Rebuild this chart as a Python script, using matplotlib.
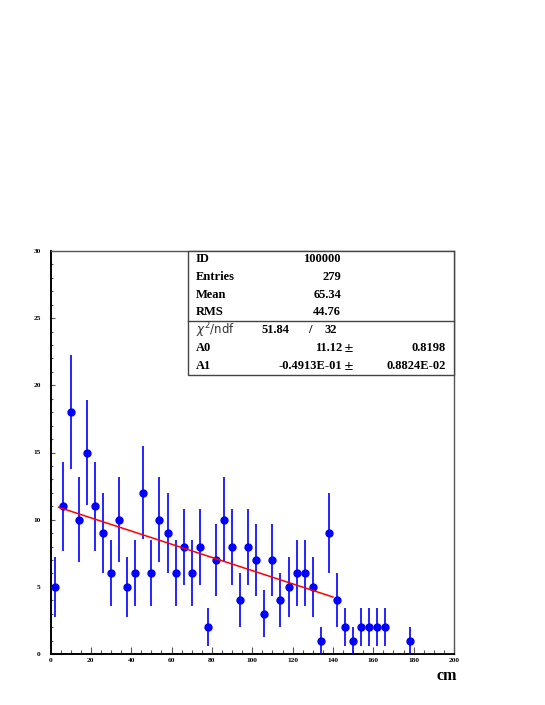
import numpy as np
import matplotlib
matplotlib.use('Agg')
import matplotlib.pyplot as plt
from matplotlib.patches import Rectangle
from matplotlib.ticker import MultipleLocator

# histogram contents, 50 bins of 4 cm from 0 to 200
bin_edges = np.arange(0, 204, 4)
counts = [5, 11, 18, 10, 15, 11, 9, 6, 10, 5,
          6, 12, 6, 10, 9, 6, 8, 6, 8, 2,
          7, 10, 8, 4, 8, 7, 3, 7, 4, 5,
          6, 6, 5, 1, 9, 4, 2, 1, 2, 2,
          2, 2, 0, 0, 1, 0, 0, 0, 0, 0]

# linear fit A0 + A1*x, fitted range
fit_a0 = 11.12
fit_a1 = -0.4913e-01
fit_range = [4, 140]

stat_labels = ['ID', 'Entries', 'Mean', 'RMS']
stat_values = ['100000', '279', '65.34', '44.76']
par_labels = ['A0', 'A1']
par_values = ['11.12', '-0.4913E-01']
par_errors = ['0.8198', '0.8824E-02']

W, H = 545, 705
fig = plt.figure(figsize=(W / 100, H / 100), dpi=100)

def px(x, y):
    return x / W, 1 - y / H

ax = fig.add_axes([50.5 / W, 1 - 654 / H, 403.5 / W, 403 / H])

centers = (bin_edges[:-1] + bin_edges[1:]) / 2
counts = np.array(counts, dtype=float)
filled = counts > 0
errs = np.sqrt(counts)

ax.errorbar(centers[filled], counts[filled], yerr=errs[filled], fmt='o',
            color='#0000ff', ms=5.0, elinewidth=1.2, capsize=0, zorder=3)
# empty bins shown as flat segments on zero
ax.errorbar(centers[~filled], counts[~filled], xerr=2, fmt='none',
            ecolor='#0000ff', elinewidth=1.2, zorder=3)

xf = np.linspace(fit_range[0], fit_range[1], 50)
ax.plot(xf, fit_a0 + fit_a1 * xf, color='red', lw=1.1, zorder=4)

ax.set_xlim(0, 200)
ax.set_ylim(0, 30)
ax.xaxis.set_major_locator(MultipleLocator(20))
ax.xaxis.set_minor_locator(MultipleLocator(5))
ax.yaxis.set_major_locator(MultipleLocator(5))
ax.yaxis.set_minor_locator(MultipleLocator(1))
ax.tick_params(axis='x', which='major', direction='in', length=5, width=0.8,
               color='#555555', pad=3)
ax.tick_params(axis='x', which='minor', direction='in', length=2.8, width=0.8,
               color='#555555')
ax.tick_params(axis='y', which='major', direction='in', length=3, width=0.8,
               color='#555555', pad=7)
ax.tick_params(axis='y', which='minor', direction='in', length=1.5, width=0.8,
               color='#555555')
for lab in ax.get_xticklabels() + ax.get_yticklabels():
    lab.set_fontfamily('Liberation Serif')
    lab.set_fontweight('bold')
    lab.set_fontsize(5.3)

for side in ['left', 'bottom']:
    ax.spines[side].set_linewidth(1.4)
    ax.spines[side].set_color('black')
for side in ['top', 'right']:
    ax.spines[side].set_linewidth(1.0)
    ax.spines[side].set_color('#555555')

fig.text(*px(447, 676), 'cm', fontfamily='Liberation Serif', fontweight='bold',
         fontsize=11.5, ha='center', va='center')

# statistics box
box_l, box_r, box_t, box_b = 188, 454, 251, 375
x0, y0 = px(box_l, box_b)
x1, y1 = px(box_r, box_t)
fig.patches.append(Rectangle((x0, y0), x1 - x0, y1 - y0, transform=fig.transFigure,
                             facecolor='white', edgecolor='#444444', lw=1.0, zorder=5))
fig.lines.append(plt.Line2D([x0, x1], [px(0, 321)[1]] * 2, transform=fig.transFigure,
                            color='#444444', lw=1.0, zorder=6))

txt = dict(fontfamily='Liberation Serif', fontweight='bold', fontsize=9,
           va='center', zorder=7)
rows = [259, 277, 295, 312.5]
for lab, val, y in zip(stat_labels, stat_values, rows):
    fig.text(*px(196, y), lab, ha='left', **txt)
    fig.text(*px(341, y), val, ha='right', **txt)

fig.text(*px(196, 330), r'$\chi^2$/ndf', ha='left', va='center', fontfamily='DejaVu Sans',
         fontsize=8.5, color='#333333', zorder=7)
fig.text(*px(262, 330), '51.84', ha='left', **txt)
fig.text(*px(310, 330), '/', ha='center', **txt)
fig.text(*px(337, 330), '32', ha='right', **txt)

for lab, val, err, y in zip(par_labels, par_values, par_errors, [348, 366]):
    fig.text(*px(196, y), lab, ha='left', **txt)
    fig.text(*px(342, y), val, ha='right', **txt)
    fig.text(*px(344, y), '\u00b1', ha='left', fontfamily='DejaVu Sans', fontsize=8.5,
             va='center', zorder=7)
    fig.text(*px(446, y), err, ha='right', **txt)

fig.savefig('out.png', dpi=100)
